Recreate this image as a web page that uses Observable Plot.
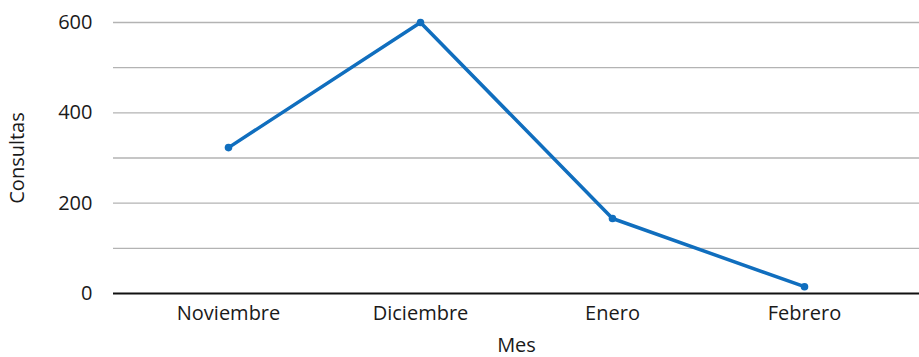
<!DOCTYPE html>
<html><head><meta charset="utf-8">
<script src="https://cdn.jsdelivr.net/npm/d3@7"></script>
<script src="https://cdn.jsdelivr.net/npm/@observablehq/plot@0.6"></script>
<style>
body{margin:0;background:#fff;}
svg{font-family:"Open Sans",sans-serif;}
</style>
</head><body>
<div id="chart"></div>
<script>
const months = ["Noviembre","Diciembre","Enero","Febrero"];
const consultas = [323, 600, 166, 15];
const yTicks = [0,200,400,600];
const gridTicks = [100,200,300,400,500,600];

const data = months.map((m,i)=>({mes:m, v:consultas[i]}));

const chart = Plot.plot({
  width: 919, height: 357,
  marginLeft: 113, marginRight: 0, marginTop: 22, marginBottom: 64,
  style: {fontFamily: "'Open Sans', sans-serif", fontSize: "20px", color: "#1a1a1a", background: "#fff"},
  x: {type: "point", domain: months, padding: 0.59, label: "Mes", labelAnchor: "center", labelArrow: "none", labelOffset: 58, tickSize: 0, tickPadding: 12},
  y: {domain: [0,600], ticks: yTicks, label: "Consultas", labelAnchor: "center", labelArrow: "none", labelOffset: 104, tickSize: 0, tickPadding: 21},
  marks: [
    Plot.ruleY(gridTicks, {stroke: "#b3b3b3", strokeWidth: 1.3}),
    Plot.ruleY([0], {stroke: "#111", strokeWidth: 2}),
    Plot.line(data, {x: "mes", y: "v", stroke: "#106ebe", strokeWidth: 3.5}),
    Plot.dot(data, {x: "mes", y: "v", fill: "#106ebe", r: 3.8})
  ]
});
document.getElementById("chart").appendChild(chart);
</script>
</body></html>
